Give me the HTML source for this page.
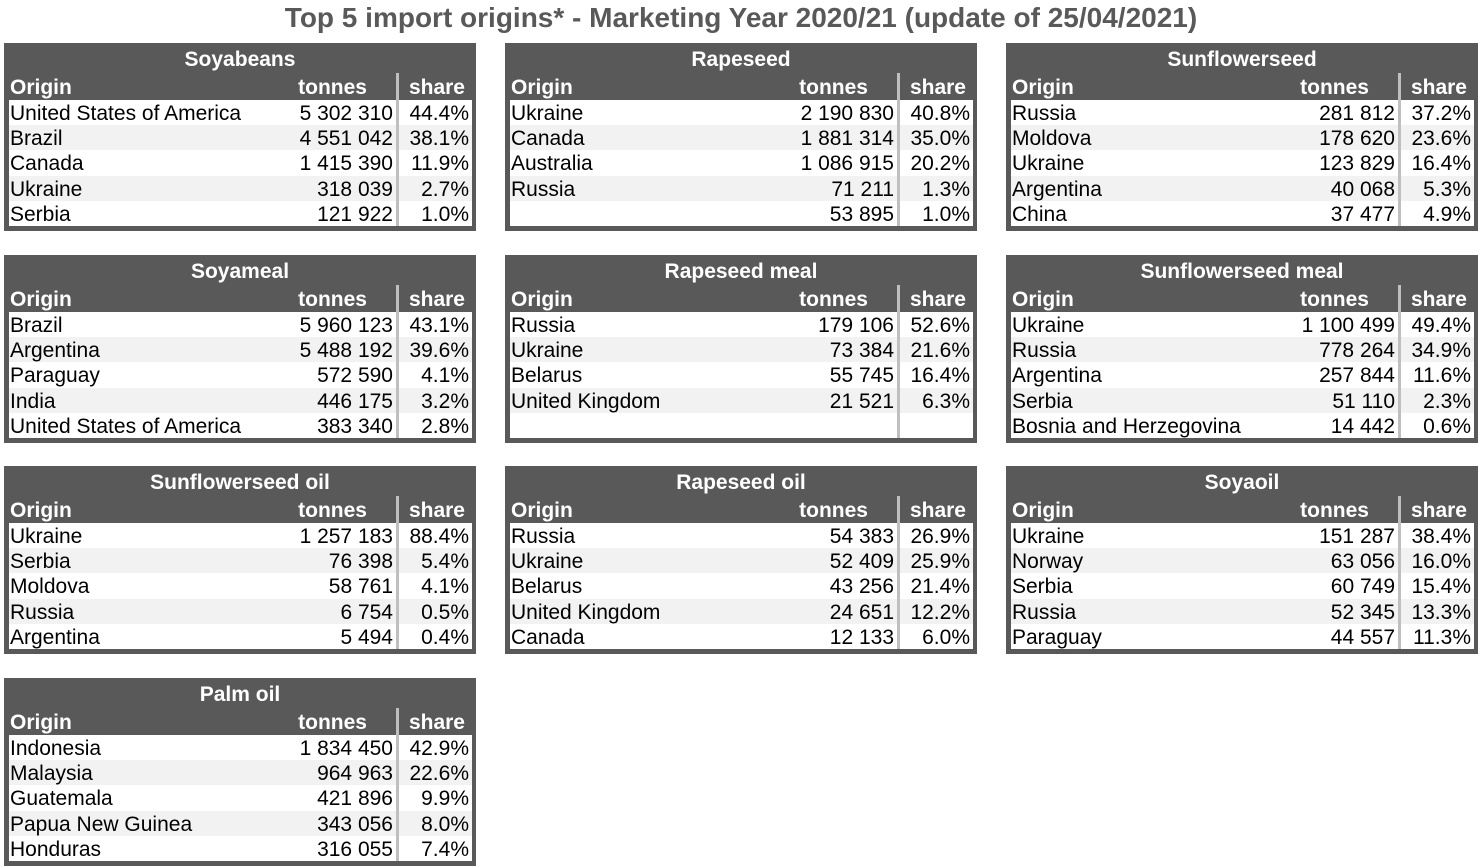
<!DOCTYPE html>
<html><head><style>
body{margin:0;width:1482px;height:868px;background:#fff;font-family:"Liberation Sans",Arial,sans-serif;position:relative;overflow:hidden}
.t{position:absolute;left:0;width:1482px;top:2px;text-align:center;font-weight:bold;font-size:28px;color:#595959}
.p{position:absolute;width:472px;height:188px;background:#595959}
.p .h{position:absolute;left:0;width:472px;top:5px;text-align:center;color:#fff;font-weight:bold;font-size:21px;line-height:24px}
.p .hd{position:absolute;top:32px;color:#fff;font-weight:bold;font-size:21px;line-height:26px}
.p .w{position:absolute;left:5px;top:57px;width:463px;height:126px;background:#fff}
.r{position:absolute;left:0;width:463px;height:25.2px;font-size:21px;line-height:28px;color:#000}
.r.g{background:#f2f2f2}
.r span{position:absolute}
.o{left:1px}
.n{right:79px}
.s{right:3px}
.dv{position:absolute;left:392px;top:30px;width:3px;height:153px;background:#bfbfbf}
</style></head><body>
<div class="t">Top 5 import origins* - Marketing Year 2020/21 (update of 25/04/2021)</div>
<div id="c"></div>
<script>
const D=[
["Soyabeans",[["United States of America","5 302 310","44.4%"],["Brazil","4 551 042","38.1%"],["Canada","1 415 390","11.9%"],["Ukraine","318 039","2.7%"],["Serbia","121 922","1.0%"]]],
["Rapeseed",[["Ukraine","2 190 830","40.8%"],["Canada","1 881 314","35.0%"],["Australia","1 086 915","20.2%"],["Russia","71 211","1.3%"],["","53 895","1.0%"]]],
["Sunflowerseed",[["Russia","281 812","37.2%"],["Moldova","178 620","23.6%"],["Ukraine","123 829","16.4%"],["Argentina","40 068","5.3%"],["China","37 477","4.9%"]]],
["Soyameal",[["Brazil","5 960 123","43.1%"],["Argentina","5 488 192","39.6%"],["Paraguay","572 590","4.1%"],["India","446 175","3.2%"],["United States of America","383 340","2.8%"]]],
["Rapeseed meal",[["Russia","179 106","52.6%"],["Ukraine","73 384","21.6%"],["Belarus","55 745","16.4%"],["United Kingdom","21 521","6.3%"],["","",""]]],
["Sunflowerseed meal",[["Ukraine","1 100 499","49.4%"],["Russia","778 264","34.9%"],["Argentina","257 844","11.6%"],["Serbia","51 110","2.3%"],["Bosnia and Herzegovina","14 442","0.6%"]]],
["Sunflowerseed oil",[["Ukraine","1 257 183","88.4%"],["Serbia","76 398","5.4%"],["Moldova","58 761","4.1%"],["Russia","6 754","0.5%"],["Argentina","5 494","0.4%"]]],
["Rapeseed oil",[["Russia","54 383","26.9%"],["Ukraine","52 409","25.9%"],["Belarus","43 256","21.4%"],["United Kingdom","24 651","12.2%"],["Canada","12 133","6.0%"]]],
["Soyaoil",[["Ukraine","151 287","38.4%"],["Norway","63 056","16.0%"],["Serbia","60 749","15.4%"],["Russia","52 345","13.3%"],["Paraguay","44 557","11.3%"]]],
["Palm oil",[["Indonesia","1 834 450","42.9%"],["Malaysia","964 963","22.6%"],["Guatemala","421 896","9.9%"],["Papua New Guinea","343 056","8.0%"],["Honduras","316 055","7.4%"]]]];
const xs=[4,505,1006],ys=[43,255,466,678];let h="";
D.forEach((d,i)=>{const x=xs[i%3],y=ys[Math.floor(i/3)];
h+=`<div class="p" style="left:${x}px;top:${y}px"><div class="h">${d[0]}</div><div class="hd" style="left:6px">Origin</div><div class="hd" style="right:109px">tonnes</div><div class="hd" style="right:11px">share</div><div class="w">`;
d[1].forEach((r,j)=>{h+=`<div class="r${j%2?' g':''}" style="top:${j*25.2}px"><span class="o">${r[0]}</span><span class="n">${r[1]}</span><span class="s">${r[2]}</span></div>`});
h+=`</div><div class="dv"></div></div>`;});
document.getElementById("c").innerHTML=h;
</script>
</body></html>
